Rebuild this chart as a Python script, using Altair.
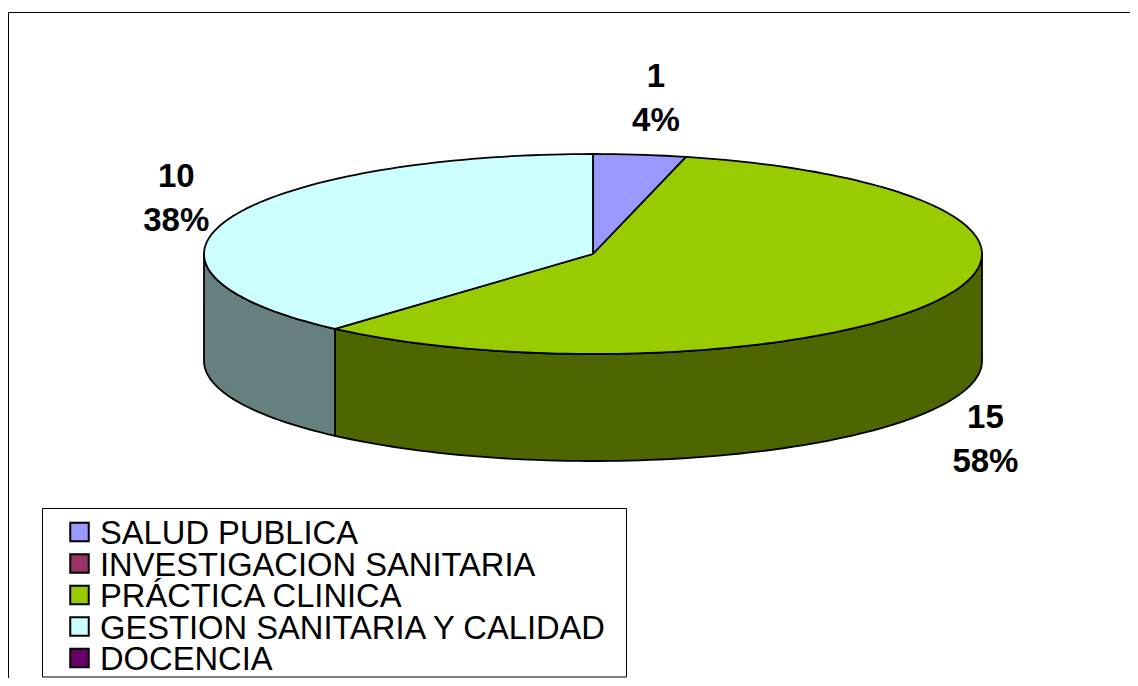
import math
import altair as alt
import pandas as pd

categories = ["SALUD PUBLICA", "INVESTIGACION SANITARIA", "PRÁCTICA CLINICA",
              "GESTION SANITARIA Y CALIDAD", "DOCENCIA"]
values = [1, 0, 15, 10, 0]
top_colors = ["#9999FF", "#993366", "#99CC00", "#CCFFFF", "#660066"]
side_colors = ["#4D4D80", "#4D1A33", "#4D6600", "#668080", "#330033"]

# pie geometry, in page pixels (the scales below map page pixels onto the canvas)
CX, CY, RX, RY, DEPTH = 593, 254, 389, 100, 107
LABEL_NUDGE = {0: (16, -56), 2: (48, 140), 3: (-53, -20)}
LINE_GAP = 44
LEGEND_X, LEGEND_Y, LEGEND_STEP, LEGEND_TEXT_X = 79.5, 532, 31.5, 100
W, H = 1122, 670

total = sum(values)
def pt(deg, drop=0):
    r = math.radians(deg)
    return CX + RX * math.sin(r), CY - RY * math.cos(r) + drop

top_rows, side_rows, label_rows = [], [], []
start = 0.0
for cat, v, i in zip(categories, values, range(len(values))):
    end = start + 360.0 * v / total
    if v > 0:
        n = max(2, int((end - start) / 1.5))
        arc = [start + (end - start) * k / n for k in range(n + 1)]
        poly = [(CX, CY)] + [pt(a) for a in arc] + [(CX, CY)]
        for k, (x, y) in enumerate(poly):
            top_rows.append(dict(cat=cat, x=x, y=y, k=k))
        a0, a1 = max(start, 90.0), min(end, 270.0)
        if a1 > a0:
            m = max(2, int((a1 - a0) / 1.5))
            front = [a0 + (a1 - a0) * k / m for k in range(m + 1)]
            wall = [pt(a) for a in front] + [pt(a, DEPTH) for a in reversed(front)]
            wall.append(wall[0])
            for k, (x, y) in enumerate(wall):
                side_rows.append(dict(cat=cat, x=x, y=y, k=k))
        mx, my = pt((start + end) / 2)
        nx, ny = LABEL_NUDGE[i]
        label_rows.append(dict(x=mx + nx, y=my + ny - LINE_GAP / 2, t=str(v)))
        label_rows.append(dict(x=mx + nx, y=my + ny + LINE_GAP / 2, t=f"{round(100 * v / total)}%"))
    start = end

legend_rows = [dict(cat=c, x=LEGEND_X, tx=LEGEND_TEXT_X, y=LEGEND_Y + LEGEND_STEP * i)
               for i, c in enumerate(categories)]

xs = alt.Scale(domain=[8, 8 + W], range=[0, W], nice=False, zero=False)
ys = alt.Scale(domain=[8, 8 + H], range=[0, H], nice=False, zero=False)
X = alt.X("x:Q", scale=xs, axis=None)
Y = alt.Y("y:Q", scale=ys, axis=None)
top_fill = alt.Fill("cat:N", scale=alt.Scale(domain=categories, range=top_colors), legend=None)
side_fill = alt.Fill("cat:N", scale=alt.Scale(domain=categories, range=side_colors), legend=None)

frame = pd.DataFrame([dict(x=8.5, y=12.5, x2=8 + W, y2=12.5),
                      dict(x=8.5, y=12.5, x2=8.5, y2=8 + H)])
frame_layer = alt.Chart(frame).mark_rule(color="#000000", strokeWidth=1).encode(
    x=X, y=Y, x2="x2:Q", y2="y2:Q")

box = pd.DataFrame([dict(x=42.5, y=508.5, x2=626.5, y2=677)])
box_layer = alt.Chart(box).mark_rect(filled=False, stroke="#000000", strokeWidth=1).encode(
    x=X, y=Y, x2="x2:Q", y2="y2:Q")

sides = alt.Chart(pd.DataFrame(side_rows)).mark_line(
    stroke="#000000", strokeWidth=1.8, strokeJoin="round").encode(
    x=X, y=Y, order="k:Q", fill=side_fill, detail="cat:N")

tops = alt.Chart(pd.DataFrame(top_rows)).mark_line(
    stroke="#000000", strokeWidth=1.8, strokeJoin="round").encode(
    x=X, y=Y, order="k:Q", fill=top_fill, detail="cat:N")

labels = alt.Chart(pd.DataFrame(label_rows)).mark_text(
    font="Liberation Sans", fontSize=33, fontWeight="bold", color="#000000",
    align="center", baseline="middle").encode(x=X, y=Y, text="t:N")

legend_df = pd.DataFrame(legend_rows)
swatches = alt.Chart(legend_df).mark_square(
    size=342, opacity=1, filled=True, stroke="#000000", strokeWidth=2).encode(
    x=X, y=Y, fill=top_fill)
legend_text = alt.Chart(legend_df).mark_text(
    font="Liberation Sans", fontSize=32.7, color="#000000", align="left",
    baseline="middle", dy=2).encode(
    x=alt.X("tx:Q", scale=xs, axis=None), y=Y, text="cat:N")

chart = alt.layer(frame_layer, box_layer, sides, tops, labels, swatches, legend_text
                  ).resolve_scale(fill="independent").properties(
    width=W, height=H, padding=0, background="#FFFFFF",
    autosize=alt.AutoSizeParams(type="none")
).configure_view(stroke=None)

chart.save("out.html", embed_options={"renderer": "svg", "actions": False})
